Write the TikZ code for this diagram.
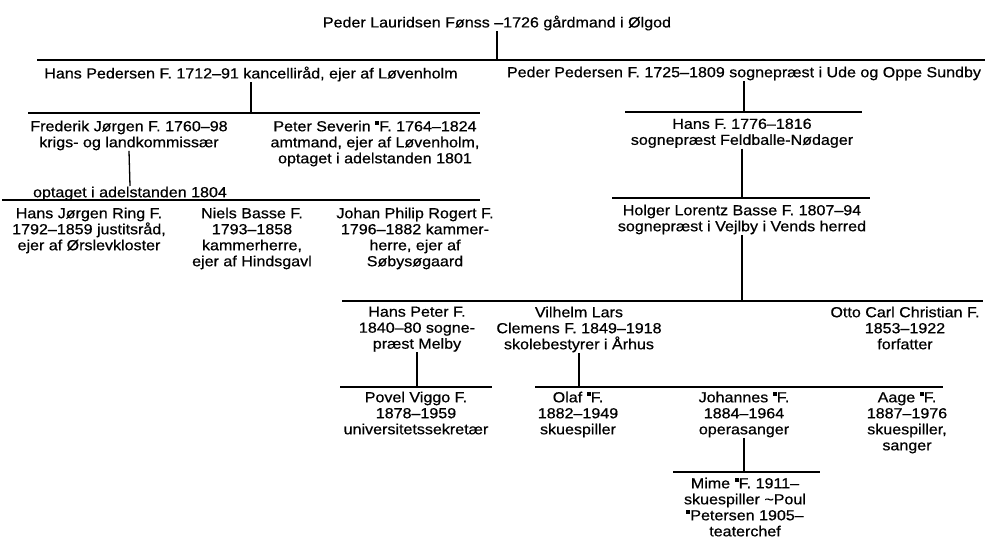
\documentclass[tikz,border=0pt]{standalone}
\usepackage{fontspec}
\setmainfont{Liberation Sans}[FakeStretch=1.1,FakeBold=0.6]
\newcommand{\pil}{\rule[0.44em]{0.28em}{0.29em}}

\begin{document}
\begin{tikzpicture}[x=1pt,y=-1pt,line join=round,line width=1.3pt,font=\fontsize{14.6}{16}\selectfont,
	person/.style={inner sep=0pt,align=center,anchor=north}]
		\useasboundingbox (0,0) rectangle (985,538);
		% people
		\node[person] (peder) at (497,15) {Peder Lauridsen Fønss --1726 gårdmand i Ølgod};
		\node[person] (hansped) at (251,66) {Hans Pedersen F. 1712--91 kancelliråd, ejer af Løvenholm};
		\node[person] (pederped) at (744,66) {Peder Pedersen F. 1725--1809 sognepræst i Ude og Oppe Sundby};
		\node[person] (frederik) at (129,120) {Frederik Jørgen F. 1760--98\\krigs- og landkommissær};
		\node[person] (peter) at (375,120) {Peter Severin \pil F. 1764--1824\\amtmand, ejer af Løvenholm,\\optaget i adelstanden 1801};
		\node[person] (adel) at (130,186) {optaget i adelstanden 1804};
		\node[person] (hansf) at (742,118) {Hans F. 1776--1816\\sognepræst Feldballe-Nødager};
		\node[person] (ring) at (89,207) {Hans Jørgen Ring F.\\1792--1859 justitsråd,\\ejer af Ørslevkloster};
		\node[person] (niels) at (252,207) {Niels Basse F.\\1793--1858\\kammerherre,\\ejer af Hindsgavl};
		\node[person] (johan) at (415,207) {Johan Philip Rogert F.\\1796--1882 kammer-\\herre, ejer af\\Søbysøgaard};
		\node[person] (holger) at (742,204) {Holger Lorentz Basse F. 1807--94\\sognepræst i Vejlby i Vends herred};
		\node[person] (hanspeter) at (417,306) {Hans Peter F.\\1840--80 sogne-\\præst Melby};
		\node[person] (vilhelm) at (579,306) {Vilhelm Lars\\Clemens F. 1849--1918\\skolebestyrer i Århus};
		\node[person] (otto) at (905,306) {Otto Carl Christian F.\\1853--1922\\forfatter};
		\node[person] (povel) at (416,391) {Povel Viggo F.\\1878--1959\\universitetssekretær};
		\node[person] (olaf) at (578,391) {Olaf \pil F.\\1882--1949\\skuespiller};
		\node[person] (johannes) at (744,391) {Johannes \pil F.\\1884--1964\\operasanger};
		\node[person] (aage) at (907,391) {Aage \pil F.\\1887--1976\\skuespiller,\\sanger};
		\node[person] (mime) at (745,477) {Mime \pil F. 1911--\\skuespiller \textasciitilde Poul\\\pil Petersen 1905--\\teaterchef};
		% bars
		\foreach \n/\a/\b/\y in {g1/37/985/60, g2a/28/480/113, g3a/2/480/200, g2b/625/862/112, g3b/612/870/198, g4/342/983/301, g5a/340/492/387, g5b/535/943/387, g6/673/820/472}
		{\coordinate (\n-l) at (\a,\y); \coordinate (\n-r) at (\b,\y); \draw (\n-l)--(\n-r);}
		% stems
		\foreach \p/\g in {peder/g1, hansped/g2a, pederped/g2b, hansf/g3b, holger/g4, hanspeter/g5a, vilhelm/g5b, johannes/g6}
		\draw (\p.south)--(\p.south |- \g-l);
		\draw (frederik.south)--(adel.north);
\end{tikzpicture}
\end{document}
